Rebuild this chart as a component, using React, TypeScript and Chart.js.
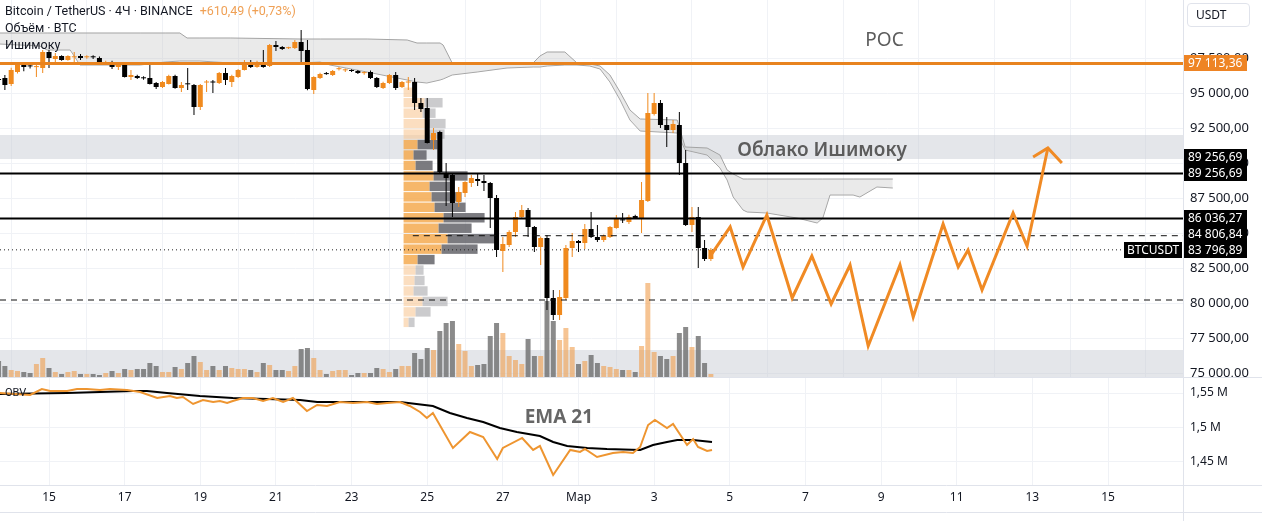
import React, { useEffect, useRef } from "react";
import { Chart, registerables } from "chart.js";
Chart.register(...registerables);

const FONT = "'Noto Sans', 'DejaVu Sans', sans-serif";
const LEGEND_FONT = "Roboto, 'Noto Sans', sans-serif";
const TEXT = "#131722";
const GRID = "#F0F2F6";
const BORDER = "#E0E3EB";
const UP = "#F08A1E";
const DOWN = "#000000";

// ---- time axis (day numbers: Feb d -> d, Mar 1 -> 29) ----
const X_MIN = 13.7044;
const X_MAX = 44.983;
const dateTicks = [15, 17, 19, 21, 23, 25, 27, 29, 31, 33, 35, 37, 39, 41, 43];
const dateLabels = ["15", "17", "19", "21", "23", "25", "27", "Мар", "3", "5", "7", "9", "11", "13", "15"];
const FIRST_CANDLE_DAY = 13 + 16 / 24; // Feb 13, 16:00
const CANDLE_STEP = 4 / 24; // 4H

// ---- price axis ----
const PRICE_MIN = 74642.86;
const PRICE_MAX = 101642.86;
const priceTicks = [75000, 77500, 80000, 82500, 85000, 87500, 90000, 92500, 95000, 97500];

// ---- candles (BTCUSDT 4H) ----
const opens = [
  95960, 96071, 95643, 96500, 97071, 96950, 96850, 96786, 97929, 97430,
  97643, 97357, 97550, 97643, 97550, 97580, 97500, 97071, 97214, 96857,
  97071, 96143, 96214, 96100, 96071, 95714, 95429, 95643, 96214, 95357,
  95680, 95571, 94000, 95750, 95800, 95714, 96429, 95786, 96143, 96643,
  97071, 96857, 97071, 96929, 98429, 98286, 98200, 98214, 98643, 98071,
  95214, 96071, 96400, 96286, 96700, 96620, 96643, 96571, 96420, 96500,
  96071, 95357, 95714, 96286, 95429, 95750, 95786, 94286, 93929, 91643,
  92214, 89286, 89143, 87214, 87857, 88571, 88857, 88714, 88571, 87500,
  83714, 84143, 85071, 86143, 86643, 85429, 84000, 84643, 80357, 79143,
  80357, 83929, 84429, 84286, 85286, 84714, 84500, 84714, 85357, 85950,
  85786, 86214, 86000, 87286, 93500, 94286, 92714, 92357, 92714, 90000,
  85571, 86143, 83929, 83143,
];
const highs = [
  96050, 96286, 96800, 97200, 97150, 97050, 97214, 98071, 98071, 97860,
  97700, 97700, 97929, 97786, 97700, 97700, 97600, 97300, 97300, 97150,
  97214, 96643, 96300, 96200, 97000, 95786, 95860, 96300, 96300, 95786,
  96786, 95650, 95650, 95929, 95929, 96500, 96786, 96300, 96714, 97357,
  97357, 97300, 98071, 98500, 98714, 98350, 98300, 98786, 99500, 98786,
  96200, 96450, 96500, 96650, 96850, 96750, 96700, 96650, 96550, 96600,
  96150, 95800, 96350, 96500, 95850, 96143, 96071, 94643, 94643, 92500,
  92300, 90000, 89286, 88286, 88700, 89143, 89214, 89143, 88643, 87714,
  84714, 85200, 86500, 87000, 86786, 85500, 84750, 84850, 80929, 80929,
  84143, 85000, 84500, 85643, 86500, 85571, 84900, 85500, 86286, 86429,
  86300, 86300, 88643, 95000, 95000, 94500, 93286, 93071, 93643, 90929,
  86857, 86857, 84500, 83929,
];
const lows = [
  95850, 95214, 95500, 96400, 96550, 96750, 96143, 96429, 96786, 97214,
  97300, 97300, 97214, 97357, 97450, 97430, 97150, 97000, 96714, 96643,
  96100, 95929, 96000, 95950, 95600, 95286, 95350, 95600, 95300, 95071,
  95214, 93430, 93786, 95071, 95000, 95650, 95571, 95429, 96071, 96600,
  96786, 96800, 96800, 96857, 98000, 98071, 98150, 98150, 97214, 95200,
  94929, 96000, 96300, 96214, 96600, 96500, 96500, 96350, 96300, 96000,
  95350, 95286, 95650, 95214, 95357, 95214, 93786, 93643, 91400, 90929,
  89286, 86929, 86143, 86857, 87571, 88286, 88357, 88000, 85357, 83286,
  82214, 84000, 84714, 86000, 84714, 83643, 82714, 79500, 78786, 78786,
  80214, 83286, 83643, 83857, 84643, 84357, 84357, 84643, 85300, 85714,
  85650, 86000, 85000, 87214, 93400, 92500, 91143, 92143, 89143, 85500,
  85071, 82500, 83000, 83000,
];
const closes = [
  95930, 95571, 96643, 97071, 96857, 96900, 96900, 97929, 97500, 97643,
  97357, 97643, 97600, 97500, 97580, 97550, 97214, 97214, 96857, 97071,
  96143, 96286, 96071, 96050, 95643, 95429, 95786, 96214, 95357, 95571,
  95620, 94000, 95571, 95800, 95750, 96429, 95929, 96214, 96643, 97214,
  96857, 97214, 96857, 98429, 98286, 98143, 98230, 98643, 98000, 95286,
  96143, 96357, 96350, 96571, 96730, 96650, 96571, 96429, 96450, 96071,
  95429, 95714, 96286, 95357, 95786, 95786, 94286, 93857, 91429, 92143,
  89357, 88929, 87143, 87929, 88643, 88929, 88714, 88571, 87500, 83786,
  84214, 85071, 86143, 86643, 85429, 84000, 84643, 80357, 79143, 80429,
  83929, 84429, 84286, 85286, 84714, 84500, 84786, 85429, 86000, 85900,
  86143, 86071, 87357, 93571, 94286, 92714, 92357, 92786, 90000, 85571,
  86143, 83929, 83143, 83797,
];
const volumes = [
  4250, 3000, 2000, 1750, 1500, 1250, 3500, 5000, 2500, 1500,
  1000, 1500, 1750, 1000, 1000, 1000, 750, 1250, 1750, 1250,
  2250, 2000, 2250, 2250, 3750, 3000, 1500, 1500, 2750, 2250,
  3750, 5500, 4000, 2000, 3000, 2000, 3000, 2500, 2250, 2250,
  2000, 1500, 3750, 3250, 2000, 2000, 1750, 3000, 7250, 7500,
  5000, 2000, 1000, 1750, 2000, 2000, 750, 1250, 1250, 1250,
  2500, 2250, 1500, 2250, 3000, 3000, 6250, 4750, 7500, 7000,
  11750, 13750, 14250, 8500, 6750, 3000, 3250, 3500, 10500, 13750,
  11250, 5500, 4500, 3500, 9750, 5500, 5500, 19250, 14250, 9500,
  12500, 7750, 3500, 4250, 5750, 3750, 3000, 2750, 2250, 2000,
  2000, 1500, 8000, 23750, 6500, 5500, 4750, 5500, 11250, 12750,
  7750, 10500, 3750, 1000,
];
const VOL_MAX = 94500;

// ---- Ichimoku cloud (shifted forward) ----
const cloudDays = [
  13.70, 14.76, 14.95, 15.56, 15.82, 17.41, 18.07, 18.46, 18.65, 18.99,
  19.79, 21.64, 22.17, 22.43, 23.41, 24.47, 24.73, 24.99, 25.34, 25.42,
  25.66, 26.32, 27.11, 27.80, 27.98, 28.17, 28.64, 28.96, 29.30, 29.57,
  29.83, 30.10, 30.36, 30.63, 31.61, 31.82, 32.40, 32.74, 32.93, 33.09,
  33.35, 33.46, 33.98, 34.78, 35.31, 35.46, 35.65, 36.26, 36.44, 36.89, 37.31,
];
const cloudSpanA = [
  99286, 99286, 99286, 99286, 99286, 99286, 99286, 99286, 98929, 98929,
  98929, 98857, 98857, 98857, 98857, 98786, 98571, 98571, 98571, 98429,
  97143, 97143, 97143, 97143, 97643, 97929, 97929, 97143, 97071, 96929,
  96286, 95071, 93786, 93143, 93071, 91143, 91071, 90571, 89500, 89214,
  88857, 88857, 88857, 88857, 88857, 88857, 88857, 88857, 88857, 88857, 88857,
];
const cloudSpanB = [
  98500, 98357, 98071, 98071, 97000, 97000, 97214, 97286, 97286, 97286,
  97143, 97143, 97214, 97000, 96500, 95929, 95786, 95714, 95929, 96000,
  96286, 96500, 96786, 96857, 96857, 96929, 97000, 97000, 96929, 96714,
  95786, 94500, 93071, 92286, 92143, 90929, 90571, 89643, 88786, 87571,
  86643, 86500, 86429, 86071, 85714, 86071, 87714, 87714, 87571, 88286, 88214,
];

// ---- levels ----
const POC_PRICE = 97113.36;
const LEVEL_UPPER = 89256.69;
const LEVEL_LOWER = 86036.27;
const LEVEL_DASHED = 84806.84;
const LEVEL_DASHED_START = 24.62;
const LEVEL_SUPPORT = 80214;
const LAST_PRICE = 83796.89;
const zoneBands = [
  [92000, 90286],
  [76643, 70000],
];

// ---- fixed range volume profile ----
const PROFILE_START_DAY = 24.375;
const PROFILE_TOP = 95390;
const PROFILE_STEP = 747;
const PROFILE_DAYS_PER_BTC = 1 / 37821;
const VA_FIRST = 5;
const VA_LAST = 16;
const profileUp = [9000, 21000, 19000, 22000, 22000, 14000, 10000, 12000, 30000, 26000, 28000, 31000, 40000, 35000, 44000, 38000, 14000, 12000, 11000, 10000, 19000, 12000, 5000];
const profileDown = [3000, 18000, 13000, 20000, 19000, 20000, 13000, 17000, 34000, 22000, 30000, 31000, 41000, 33000, 49000, 36000, 17000, 8000, 10000, 14000, 25000, 15000, 6000];

// ---- projection ----
const projDays = [32.47, 33.01, 33.35, 33.98, 34.65, 35.17, 35.68, 36.18, 36.66, 37.5, 37.85, 38.64, 39.04, 39.3, 39.67, 40.49, 40.86, 41.41];
const projPrices = [83300, 85429, 82571, 86286, 80357, 83357, 79929, 82714, 76929, 82714, 79000, 85643, 82571, 83786, 80929, 86429, 84071, 91071];
const arrowDays = [41.02, 41.41, 41.78];
const arrowPrices = [90429, 91071, 90000];

// ---- OBV pane ----
const OBV_MIN = 1416600;
const OBV_MAX = 1571750;
const obvTicks = [1450000, 1500000, 1550000];
const obvDays = [
  13.70, 14.50, 14.81, 15.03, 15.48, 15.74, 16.00, 16.35, 16.61, 17.06,
  17.41, 17.86, 18.20, 18.38, 18.54, 18.81, 19.07, 19.34, 19.52, 19.71,
  19.86, 20.13, 20.39, 20.66, 20.92, 21.19, 21.45, 21.82, 22.09, 22.35,
  22.69, 23.04, 23.41, 23.67, 23.94, 24.28, 24.54, 24.81, 24.99, 25.15,
  25.68, 26.13, 26.48, 26.85, 27.00, 27.51, 27.80, 27.98, 28.33, 28.78,
  29.04, 29.17, 29.49, 29.91, 30.18, 30.44, 30.63, 30.84, 31.02, 31.34,
  31.50, 31.87, 32.03, 32.16, 32.40, 32.53,
];
const obvValues = [
  1550000, 1547100, 1555800, 1552900, 1552900, 1555800, 1555800, 1554400, 1555800, 1554400,
  1551500, 1542800, 1545700, 1542800, 1544200, 1534100, 1539900, 1537000, 1538400, 1535500,
  1538400, 1542800, 1542800, 1538400, 1542800, 1537000, 1542800, 1523900, 1532600, 1531200,
  1537000, 1535500, 1537000, 1534100, 1535500, 1537000, 1531200, 1522500, 1513800, 1521000,
  1470300, 1493500, 1486200, 1454300, 1470300, 1484800, 1467400, 1473200, 1431100, 1467400,
  1464500, 1468800, 1457200, 1463000, 1464500, 1463000, 1471700, 1503600, 1510900, 1499300,
  1505100, 1474600, 1483300, 1471700, 1465900, 1467400,
];
const emaDays = [13.70, 15.48, 17.22, 17.59, 18.12, 18.99, 19.86, 20.76, 21.64, 22.09, 23.41, 24.28, 25.15, 25.60, 26.05, 26.48, 26.92, 27.37, 27.98, 28.33, 28.70, 29.23, 29.75, 30.63, 30.97, 31.34, 31.61, 32.03, 32.53];
const emaValues = [1548600, 1550000, 1552900, 1552900, 1550000, 1545700, 1542800, 1541300, 1539900, 1537000, 1537000, 1537000, 1531200, 1521000, 1513800, 1508000, 1499300, 1493500, 1487700, 1479000, 1473200, 1470300, 1468800, 1467400, 1474600, 1479000, 1481900, 1481900, 1479000];

// ---- annotations ----
const POC_TEXT_AT = { day: 37.09, price: 98714 };
const CLOUD_TEXT_AT = { day: 35.44, price: 90857 };
const EMA_TEXT_AT = { day: 28.48, value: 1513750 };

function fmtPrice(v: number) {
  const [i, d] = v.toFixed(2).split(".");
  return i.replace(/\B(?=(\d{3})+(?!\d))/g, " ") + "," + d;
}
function fmtObv(v: number) {
  return String(Number((v / 1e6).toFixed(2))).replace(".", ",") + " M";
}

const candleDay = (i: number) => FIRST_CANDLE_DAY + i * CANDLE_STEP;
const isUp = (i: number) => closes[i] >= opens[i];
const hline = (price: number, from = X_MIN, to = X_MAX) => [
  { x: from, y: price },
  { x: to, y: price },
];

const pricePlugin = {
  id: "priceDecor",
  beforeDatasetsDraw(chart: any) {
    const { ctx, chartArea: a, scales } = chart;
    const x = scales.x, y = scales.y;
    ctx.save();
    ctx.beginPath();
    ctx.rect(a.left, a.top, a.right - a.left, a.bottom - a.top);
    ctx.clip();
    ctx.fillStyle = "rgba(196,200,208,0.45)";
    for (const [hi, lo] of zoneBands) {
      const y1 = y.getPixelForValue(hi);
      const y2 = y.getPixelForValue(lo);
      ctx.fillRect(a.left, y1, a.right - a.left, y2 - y1);
    }
    const x0 = x.getPixelForValue(PROFILE_START_DAY);
    profileUp.forEach((up, i) => {
      const top = y.getPixelForValue(PROFILE_TOP - i * PROFILE_STEP);
      const bot = y.getPixelForValue(PROFILE_TOP - (i + 1) * PROFILE_STEP);
      const va = i >= VA_FIRST && i <= VA_LAST;
      const xu = x.getPixelForValue(PROFILE_START_DAY + up * PROFILE_DAYS_PER_BTC);
      const xd = x.getPixelForValue(PROFILE_START_DAY + (up + profileDown[i]) * PROFILE_DAYS_PER_BTC);
      ctx.fillStyle = va ? "rgba(245,170,80,0.85)" : "rgba(248,200,150,0.6)";
      ctx.fillRect(x0, top, xu - x0, bot - top - 1);
      ctx.fillStyle = va ? "rgba(100,100,106,0.85)" : "rgba(160,160,164,0.55)";
      ctx.fillRect(xu, top, xd - xu, bot - top - 1);
    });
    ctx.restore();
  },
  afterDraw(chart: any) {
    const { ctx, chartArea: a, scales, width, height } = chart;
    const x = scales.x, y = scales.y;
    ctx.save();
    ctx.strokeStyle = BORDER;
    ctx.lineWidth = 1;
    ctx.beginPath();
    ctx.moveTo(a.right + 0.5, 0);
    ctx.lineTo(a.right + 0.5, height);
    ctx.moveTo(0, height - 0.5);
    ctx.lineTo(width, height - 0.5);
    ctx.stroke();

    // annotation texts
    ctx.fillStyle = "#5c5c5c";
    ctx.textAlign = "center";
    ctx.textBaseline = "middle";
    ctx.font = `19px ${FONT}`;
    ctx.fillText("POC", x.getPixelForValue(POC_TEXT_AT.day), y.getPixelForValue(POC_TEXT_AT.price));
    ctx.font = `600 19px ${FONT}`;
    ctx.fillText("Облако Ишимоку", x.getPixelForValue(CLOUD_TEXT_AT.day), y.getPixelForValue(CLOUD_TEXT_AT.price));

    // axis price labels
    const labels = [
      { price: POC_PRICE, bg: "#EE8424" },
      { price: LEVEL_UPPER, bg: "#000" },
      { price: LEVEL_UPPER, bg: "#000" },
      { price: LEVEL_LOWER, bg: "#000" },
      { price: LEVEL_DASHED, bg: "#000" },
      { price: LAST_PRICE, bg: "#000" },
    ].map((l) => ({ ...l, py: y.getPixelForValue(l.price) }));
    labels.sort((p, q) => q.py - p.py);
    let prevTop = Infinity;
    ctx.font = `12px ${FONT}`;
    ctx.textAlign = "left";
    labels.forEach((l) => {
      const c = Math.min(l.py, prevTop - 8);
      const top = Math.round(c - 8);
      prevTop = top;
      ctx.fillStyle = l.bg;
      ctx.fillRect(a.right + 1, top, 63, 16);
      ctx.fillStyle = "#fff";
      ctx.fillText(fmtPrice(l.price), a.right + 5, top + 8.5);
      if (l.price === LAST_PRICE) {
        ctx.fillStyle = "#000";
        ctx.fillRect(a.right - 59, top, 58, 16);
        ctx.fillStyle = "#fff";
        ctx.fillText("BTCUSDT", a.right - 56, top + 8.5);
      }
    });
    ctx.restore();
  },
};

const obvPlugin = {
  id: "obvDecor",
  afterDraw(chart: any) {
    const { ctx, chartArea: a, scales, width, height } = chart;
    ctx.save();
    ctx.strokeStyle = BORDER;
    ctx.lineWidth = 1;
    ctx.beginPath();
    ctx.moveTo(a.right + 0.5, 0);
    ctx.lineTo(a.right + 0.5, height);
    ctx.moveTo(0, a.bottom + 0.5);
    ctx.lineTo(width, a.bottom + 0.5);
    ctx.moveTo(0, height - 8.5);
    ctx.lineTo(width, height - 8.5);
    ctx.stroke();
    ctx.fillStyle = "#666";
    ctx.font = `bold 19px ${FONT}`;
    ctx.textAlign = "center";
    ctx.textBaseline = "middle";
    ctx.fillText("EMA 21", scales.x.getPixelForValue(EMA_TEXT_AT.day), scales.y.getPixelForValue(EMA_TEXT_AT.value));
    ctx.restore();
  },
};

const lineDs = (data: any[], color: string, width: number, order: number, dash: number[] = []) => ({
  type: "line" as const,
  data,
  borderColor: color,
  borderWidth: width,
  borderDash: dash,
  pointRadius: 0,
  fill: false,
  tension: 0,
  order,
});

function priceConfig(): any {
  const idx = opens.map((_, i) => i);
  return {
    type: "line",
    data: {
      datasets: [
        {
          ...lineDs(cloudDays.map((d, i) => ({ x: d, y: cloudSpanA[i] })), "#A3A3A3", 1, 30),
          fill: "+1",
          backgroundColor: "rgba(190,190,190,0.32)",
        },
        lineDs(cloudDays.map((d, i) => ({ x: d, y: cloudSpanB[i] })), "#A3A3A3", 1, 30),
        {
          type: "bar",
          yAxisID: "yVol",
          data: idx.map((i) => ({ x: candleDay(i), y: volumes[i] })),
          backgroundColor: idx.map((i) => (isUp(i) ? "rgba(240,160,80,0.62)" : "rgba(110,110,110,0.8)")),
          barThickness: 5,
          grouped: false,
          inflateAmount: 0,
          order: 25,
        },
        lineDs(hline(LAST_PRICE), "#222", 1, 20, [1, 3]),
        {
          type: "bar",
          data: idx.map((i) => ({ x: candleDay(i), y: [lows[i], highs[i]] })),
          backgroundColor: idx.map((i) => (isUp(i) ? UP : DOWN)),
          barThickness: 1,
          grouped: false,
          inflateAmount: 0,
          order: 12,
        },
        {
          type: "bar",
          data: idx.map((i) => ({ x: candleDay(i), y: [opens[i], closes[i]] })),
          backgroundColor: idx.map((i) => (isUp(i) ? UP : DOWN)),
          barThickness: 5,
          minBarLength: 1,
          grouped: false,
          inflateAmount: 0,
          order: 11,
        },
        lineDs(hline(POC_PRICE), "#E8831F", 3, 5),
        lineDs(hline(LEVEL_UPPER), "#000", 2, 5),
        lineDs(hline(LEVEL_LOWER), "#000", 2, 5),
        lineDs(hline(LEVEL_DASHED, LEVEL_DASHED_START), "#111", 1, 5, [6, 5]),
        lineDs(hline(LEVEL_SUPPORT), "#111", 1, 5, [6, 5]),
        { ...lineDs(projDays.map((d, i) => ({ x: d, y: projPrices[i] })), "#F08A24", 3, 1), borderJoinStyle: "miter" },
        { ...lineDs(arrowDays.map((d, i) => ({ x: d, y: arrowPrices[i] })), "#F08A24", 3, 1), borderJoinStyle: "miter" },
      ],
    },
    options: {
      animation: false,
      responsive: false,
      maintainAspectRatio: false,
      events: [],
      layout: { padding: 0 },
      plugins: { legend: { display: false }, tooltip: { enabled: false } },
      scales: {
        x: {
          type: "linear",
          min: X_MIN,
          max: X_MAX,
          offset: false,
          afterBuildTicks: (s: any) => {
            s.ticks = dateTicks.map((v) => ({ value: v }));
          },
          ticks: { display: false },
          grid: { color: GRID, drawTicks: false },
          border: { display: false },
          afterFit: (s: any) => {
            s.height = 0;
            s.paddingLeft = 0;
            s.paddingRight = 0;
          },
        },
        y: {
          type: "linear",
          position: "right",
          min: PRICE_MIN,
          max: PRICE_MAX,
          afterBuildTicks: (s: any) => {
            s.ticks = priceTicks.map((v) => ({ value: v }));
          },
          ticks: { callback: (v: number) => fmtPrice(v), font: { family: FONT, size: 13 }, color: TEXT, padding: 7 },
          grid: { color: GRID, drawTicks: false },
          border: { display: false },
          afterFit: (s: any) => {
            s.width = 79;
            s.paddingTop = 0;
            s.paddingBottom = 0;
          },
        },
        yVol: { type: "linear", display: false, min: 0, max: VOL_MAX },
      },
    },
    plugins: [pricePlugin],
  };
}

function obvConfig(): any {
  return {
    type: "line",
    data: {
      datasets: [
        lineDs(emaDays.map((d, i) => ({ x: d, y: emaValues[i] })), "#000", 2, 2),
        lineDs(obvDays.map((d, i) => ({ x: d, y: obvValues[i] })), "#EE9530", 2, 1),
      ],
    },
    options: {
      animation: false,
      responsive: false,
      maintainAspectRatio: false,
      events: [],
      layout: { padding: 0 },
      plugins: { legend: { display: false }, tooltip: { enabled: false } },
      scales: {
        x: {
          type: "linear",
          min: X_MIN,
          max: X_MAX,
          offset: false,
          afterBuildTicks: (s: any) => {
            s.ticks = dateTicks.map((v) => ({ value: v }));
          },
          ticks: {
            callback: (_v: number, i: number) => dateLabels[i],
            font: { family: FONT, size: 12 },
            color: TEXT,
            padding: 5,
            maxRotation: 0,
            autoSkip: false,
          },
          grid: { color: GRID, drawTicks: false },
          border: { display: false },
          afterFit: (s: any) => {
            s.height = 36;
            s.paddingLeft = 0;
            s.paddingRight = 0;
          },
        },
        y: {
          type: "linear",
          position: "right",
          min: OBV_MIN,
          max: OBV_MAX,
          afterBuildTicks: (s: any) => {
            s.ticks = obvTicks.map((v) => ({ value: v }));
          },
          ticks: { callback: (v: number) => fmtObv(v), font: { family: FONT, size: 12 }, color: TEXT, padding: 7 },
          grid: { color: GRID, drawTicks: false },
          border: { display: false },
          afterFit: (s: any) => {
            s.width = 79;
            s.paddingTop = 0;
            s.paddingBottom = 0;
          },
        },
      },
    },
    plugins: [obvPlugin],
  };
}

export default function App() {
  const priceRef = useRef<HTMLCanvasElement>(null);
  const obvRef = useRef<HTMLCanvasElement>(null);
  useEffect(() => {
    const c1 = new Chart(priceRef.current as HTMLCanvasElement, priceConfig());
    const c2 = new Chart(obvRef.current as HTMLCanvasElement, obvConfig());
    return () => {
      c1.destroy();
      c2.destroy();
    };
  }, []);
  const legend: React.CSSProperties = {
    position: "absolute",
    left: 5,
    font: `12.5px ${LEGEND_FONT}`,
    color: TEXT,
    whiteSpace: "nowrap",
    lineHeight: "17px",
  };
  return (
    <div style={{ position: "fixed", left: 0, top: 0, width: 1262, height: 521, background: "#fff", overflow: "hidden" }}>
      <canvas ref={priceRef} width={1262} height={378} style={{ position: "absolute", left: 0, top: 0, width: 1262, height: 378 }} />
      <canvas ref={obvRef} width={1262} height={143} style={{ position: "absolute", left: 0, top: 378, width: 1262, height: 143 }} />
      <div style={{ ...legend, top: 2 }}>
        Bitcoin / TetherUS · 4Ч · BINANCE <span style={{ color: "#EFA055", marginLeft: 4 }}>+610,49 (+0,73%)</span>
      </div>
      <div style={{ ...legend, top: 19 }}>Объём · BTC</div>
      <div style={{ ...legend, top: 36 }}>Ишимоку</div>
      <div style={{ ...legend, top: 386, font: `11px ${LEGEND_FONT}`, lineHeight: "14px" }}>OBV</div>
      <div
        style={{
          position: "absolute",
          left: 1187,
          top: 3,
          width: 63,
          height: 24,
          boxSizing: "border-box",
          border: `1px solid ${BORDER}`,
          borderRadius: 4,
          font: `12px ${FONT}`,
          color: TEXT,
          lineHeight: "22px",
          paddingLeft: 8,
        }}
      >
        USDT
      </div>
    </div>
  );
}
